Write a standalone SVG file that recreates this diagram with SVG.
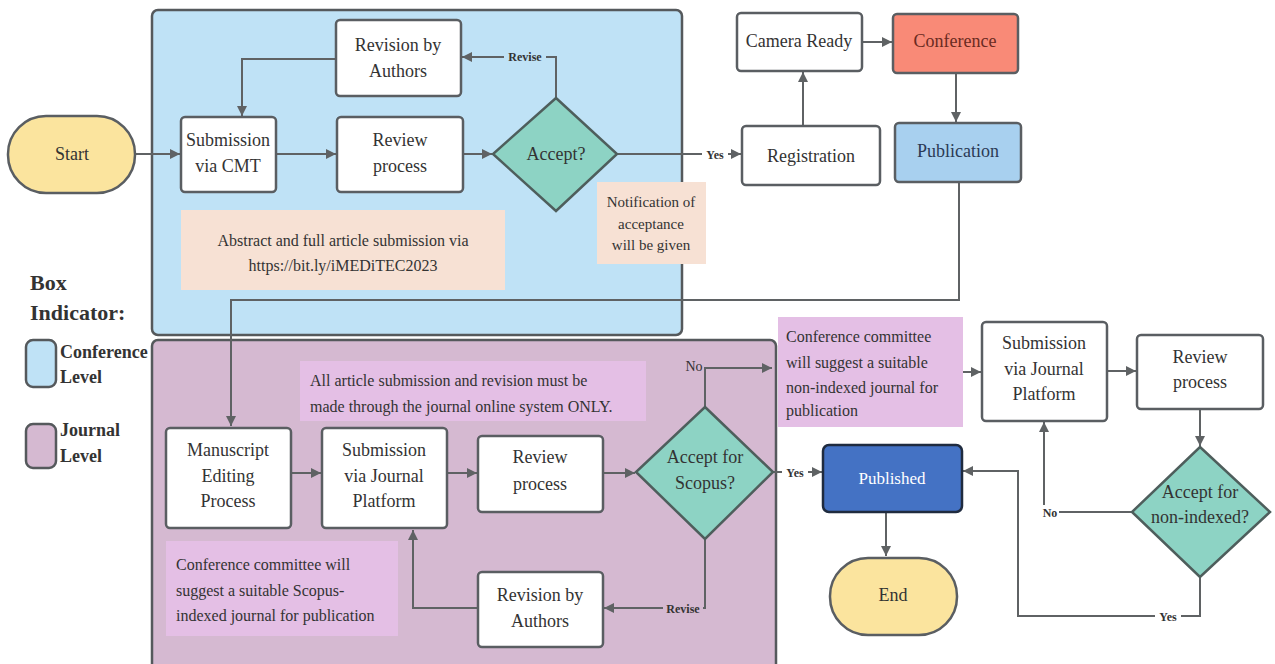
<svg xmlns="http://www.w3.org/2000/svg" width="1275" height="664" viewBox="0 0 1275 664">
<style>
text{font-family:"Liberation Serif","Times New Roman",serif;fill:#333;}
.n{font-size:18px;text-anchor:middle;}
.note{font-size:16px;}
.lbl{font-size:12px;font-weight:bold;text-anchor:middle;}
.box{fill:#fff;stroke:#5a5e62;stroke-width:2.5;}
.dia{fill:#8dd3c4;stroke:#4e5e5c;stroke-width:2.5;}
.pill{fill:#fbe49e;stroke:#5a5e62;stroke-width:2.5;}
.c{fill:none;stroke:#5f6264;stroke-width:2;}
.leg{font-size:18px;font-weight:bold;}
</style>
<defs>
<marker id="a" viewBox="0 0 10 10" refX="10" refY="5" markerWidth="11" markerHeight="10" markerUnits="userSpaceOnUse" orient="auto"><path d="M0,0 L10,5 L0,10 z" fill="#5f6264"/></marker>
</defs>
<rect width="1275" height="664" fill="#fff"/>
<g id="conference-level">
<rect x="152" y="10" width="530" height="325" rx="6" fill="#bfe2f6" stroke="#55595c" stroke-width="2.5"/>
</g>
<g id="journal-level">
<rect x="152" y="340" width="624" height="330" rx="6" fill="#d5b9d1" stroke="#55595c" stroke-width="2.5"/>
</g>
<g id="legend">
<text x="30" y="290" style="font-size:22px;font-weight:bold">Box</text>
<text x="30" y="320" style="font-size:22px;font-weight:bold">Indicator:</text>
<rect x="26" y="340" width="30" height="47" rx="7" fill="#bfe2f6" stroke="#55595c" stroke-width="2.5"/>
<text x="60" y="358" class="leg">Conference</text>
<text x="60" y="383" class="leg">Level</text>
<rect x="26" y="424" width="30" height="44" rx="7" fill="#d5b9d1" stroke="#55595c" stroke-width="2.5"/>
<text x="60" y="436" class="leg">Journal</text>
<text x="60" y="462" class="leg">Level</text>
</g>
<g id="connectors">
<path class="c" d="M135,154 H180" marker-end="url(#a)"/>
<path class="c" d="M276,154 H336" marker-end="url(#a)"/>
<path class="c" d="M463,154 H492" marker-end="url(#a)"/>
<path class="c" d="M556,98 V57 H462" marker-end="url(#a)"/>
<path class="c" d="M336,59 H242 V116" marker-end="url(#a)"/>
<path class="c" d="M617,154 H741" marker-end="url(#a)"/>
<path class="c" d="M803,126 V72" marker-end="url(#a)"/>
<path class="c" d="M862,42 H892" marker-end="url(#a)"/>
<path class="c" d="M956,73 V122" marker-end="url(#a)"/>
<path class="c" d="M959,182 V300 H231 V426" marker-end="url(#a)"/>
<path class="c" d="M291,473 H321" marker-end="url(#a)"/>
<path class="c" d="M447,473 H477" marker-end="url(#a)"/>
<path class="c" d="M603,473 H635" marker-end="url(#a)"/>
<path class="c" d="M705,539 V608 H604" marker-end="url(#a)"/>
<path class="c" d="M478,608 H413 V530" marker-end="url(#a)"/>
<path class="c" d="M705,407 V368 H772" marker-end="url(#a)"/>
<path class="c" d="M773,472 H822" marker-end="url(#a)"/>
<path class="c" d="M963,372 H981" marker-end="url(#a)"/>
<path class="c" d="M1107,371 H1136" marker-end="url(#a)"/>
<path class="c" d="M1200,409 V446" marker-end="url(#a)"/>
<path class="c" d="M1132,512 H1044 V422" marker-end="url(#a)"/>
<path class="c" d="M1200,577 V616 H1018 V471 H963" marker-end="url(#a)"/>
<path class="c" d="M886,512 V556" marker-end="url(#a)"/>
<rect x="504" y="49" width="42" height="14" fill="#bfe2f6"/>
<text x="525" y="61" class="lbl">Revise</text>
<rect x="702" y="147" width="26" height="14" fill="#fff"/>
<text x="715" y="159" class="lbl">Yes</text>
<rect x="663" y="601" width="40" height="14" fill="#d5b9d1"/>
<text x="683" y="613" class="lbl">Revise</text>
<text x="694" y="371" style="font-size:14px;text-anchor:middle">No</text>
<rect x="782" y="465" width="26" height="14" fill="#fff"/>
<text x="795" y="477" class="lbl">Yes</text>
<rect x="1041" y="505" width="18" height="14" fill="#fff"/>
<text x="1050" y="517" class="lbl">No</text>
<rect x="1155" y="609" width="26" height="14" fill="#fff"/>
<text x="1168" y="621" class="lbl">Yes</text>
</g>
<g id="note-abstract">
<rect x="181" y="210" width="324" height="80" fill="#f7e1d4"/>
<text x="343" y="246" class="note" text-anchor="middle">Abstract and full  article  submission  via</text>
<text x="343" y="271" class="note" text-anchor="middle">https://bit.ly/iMEDiTEC2023</text>
</g>
<g id="note-notification">
<rect x="597" y="182" width="109" height="82" fill="#f7e1d4"/>
<text x="651" y="207" class="note" text-anchor="middle" style="font-size:15px">Notification of</text>
<text x="651" y="229" class="note" text-anchor="middle" style="font-size:15px">acceptance</text>
<text x="651" y="250" class="note" text-anchor="middle" style="font-size:15px">will be given</text>
</g>
<g id="note-online">
<rect x="300" y="361" width="346" height="60" fill="#e4bfe5"/>
<text x="310" y="386" class="note">All  article  submission  and revision  must  be</text>
<text x="310" y="412" class="note">made  through  the journal  online  system  ONLY.</text>
</g>
<g id="note-scopus">
<rect x="166" y="541" width="232" height="95" fill="#e4bfe5"/>
<text x="176" y="570" class="note">Conference  committee  will</text>
<text x="176" y="596" class="note">suggest  a suitable  Scopus-</text>
<text x="176" y="621" class="note">indexed  journal  for  publication</text>
</g>
<g id="note-nonindexed">
<rect x="778" y="317" width="185" height="110" fill="#e4bfe5"/>
<text x="786" y="342" class="note">Conference  committee</text>
<text x="786" y="368" class="note">will  suggest  a suitable</text>
<text x="786" y="393" class="note">non-indexed  journal  for</text>
<text x="786" y="416" class="note">publication</text>
</g>
<g id="start"><rect x="8" y="116" width="127" height="77" rx="38" class="pill"/><text x="72" y="160" class="n">Start</text></g>
<g id="submission-cmt"><rect x="181" y="117" width="95" height="75" rx="4" class="box"/><text x="228" y="146" class="n">Submission</text><text x="228" y="172" class="n">via  CMT</text></g>
<g id="review-conf"><rect x="337" y="117" width="126" height="75" rx="4" class="box"/><text x="400" y="146" class="n">Review</text><text x="400" y="172" class="n">process</text></g>
<g id="accept"><path d="M556,98 L617,154 L556,211 L493,154 z" class="dia"/><text x="556" y="160" class="n">Accept?</text></g>
<g id="revision-conf"><rect x="336" y="20" width="125" height="76" rx="4" class="box"/><text x="398" y="51" class="n">Revision by</text><text x="398" y="77" class="n">Authors</text></g>
<g id="registration"><rect x="742" y="126" width="138" height="59" rx="4" class="box"/><text x="811" y="162" class="n">Registration</text></g>
<g id="camera-ready"><rect x="737" y="13" width="125" height="58" rx="4" class="box"/><text x="799" y="47" class="n">Camera Ready</text></g>
<g id="conference"><rect x="893" y="14" width="125" height="59" rx="4" fill="#f98a77" stroke="#5a5e62" stroke-width="2.5"/><text x="955" y="47" class="n" style="fill:#6a2a22">Conference</text></g>
<g id="publication"><rect x="895" y="123" width="126" height="59" rx="4" fill="#a8d0ef" stroke="#5a5e62" stroke-width="2.5"/><text x="958" y="157" class="n" style="fill:#2b3a55">Publication</text></g>
<g id="manuscript"><rect x="166" y="428" width="125" height="100" rx="4" class="box"/><text x="228" y="456" class="n">Manuscript</text><text x="228" y="482" class="n">Editing</text><text x="228" y="507" class="n">Process</text></g>
<g id="submission-journal"><rect x="322" y="428" width="125" height="100" rx="4" class="box"/><text x="384" y="456" class="n">Submission</text><text x="384" y="482" class="n">via Journal</text><text x="384" y="507" class="n">Platform</text></g>
<g id="review-journal"><rect x="478" y="436" width="125" height="76" rx="4" class="box"/><text x="540" y="463" class="n">Review</text><text x="540" y="490" class="n">process</text></g>
<g id="accept-scopus"><path d="M705,407 L773,472 L705,539 L636,472 z" class="dia"/><text x="705" y="463" class="n">Accept for</text><text x="705" y="489" class="n">Scopus?</text></g>
<g id="revision-journal"><rect x="478" y="572" width="125" height="75" rx="4" class="box"/><text x="540" y="601" class="n">Revision by</text><text x="540" y="627" class="n">Authors</text></g>
<g id="published"><rect x="823" y="445" width="139" height="67" rx="6" fill="#4472c4" stroke="#1f2b3f" stroke-width="2.5"/><text x="892" y="484" class="n" style="fill:#fff;font-size:17px">Published</text></g>
<g id="end"><rect x="830" y="558" width="127" height="77" rx="38" class="pill"/><text x="893" y="601" class="n">End</text></g>
<g id="submission-journal-2"><rect x="982" y="322" width="125" height="99" rx="4" class="box"/><text x="1044" y="349" class="n">Submission</text><text x="1044" y="375" class="n">via Journal</text><text x="1044" y="400" class="n">Platform</text></g>
<g id="review-2"><rect x="1137" y="335" width="126" height="74" rx="4" class="box"/><text x="1200" y="363" class="n">Review</text><text x="1200" y="388" class="n">process</text></g>
<g id="accept-nonindexed"><path d="M1200,447 L1270,512 L1200,577 L1132,512 z" class="dia"/><text x="1200" y="498" class="n">Accept for</text><text x="1200" y="523" class="n">non-indexed?</text></g>
</svg>
